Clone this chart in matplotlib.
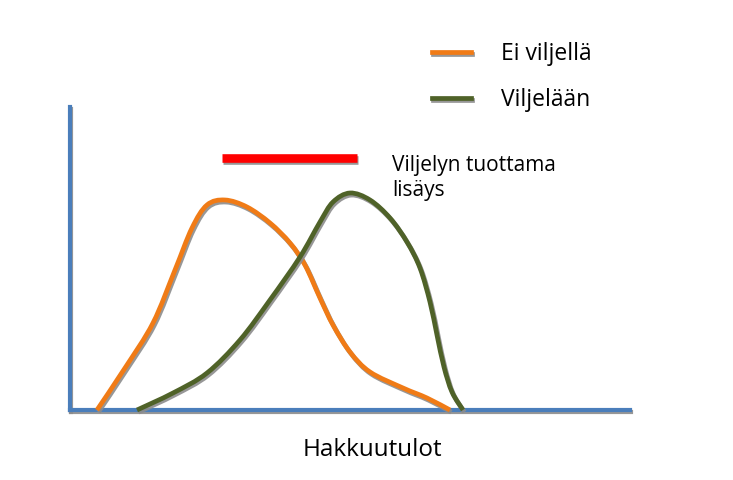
import matplotlib.pyplot as plt
import matplotlib.patheffects as pe
from matplotlib.lines import Line2D
from matplotlib.path import Path
from matplotlib.patches import PathPatch

# curve values (x along Hakkuutulot, y = relative frequency)
ei_x = [27, 55, 83, 105, 122, 137, 155, 177, 200, 220, 235, 250, 263, 280, 300, 333, 357, 380]
ei_y = [0, 42, 87, 140, 182, 205, 210, 203, 187, 167, 145, 112, 85, 58, 38, 22, 12, 0]
vil_x = [67, 103, 137, 170, 200, 230, 250, 263, 280, 300, 320, 337, 350, 360, 367, 374, 382, 393]
vil_y = [0, 17, 37, 70, 110, 153, 188, 208, 217, 210, 192, 168, 142, 108, 75, 43, 18, 0]
# "Viljelyn tuottama lisäys" marker bar
lisays_x = [152, 287]
lisays_y = 252

labels = ['Ei viljellä', 'Viljelään']
colors = ['#F07B16', '#4F6228']
axis_color = '#4A7EBB'

plt.rcParams['font.family'] = ['Open Sans', 'DejaVu Sans']


def smooth_path(xs, ys):
    # smooth curve through the points (Catmull-Rom drawn as cubic Bezier segments)
    pts = list(zip(xs, ys))
    verts = [pts[0]]
    codes = [Path.MOVETO]
    for i in range(len(pts) - 1):
        p0 = pts[i - 1] if i > 0 else pts[i]
        p1 = pts[i]
        p2 = pts[i + 1]
        p3 = pts[i + 2] if i + 2 < len(pts) else pts[i + 1]
        c1 = (p1[0] + (p2[0] - p0[0]) / 6, p1[1] + (p2[1] - p0[1]) / 6)
        c2 = (p2[0] - (p3[0] - p1[0]) / 6, p2[1] - (p3[1] - p1[1]) / 6)
        verts += [c1, c2, p2]
        codes += [Path.CURVE4] * 3
    return Path(verts, codes)


fig = plt.figure(figsize=(7.33, 4.8), dpi=100)
ax = fig.add_axes([70 / 733, 70 / 480, 560 / 733, 303 / 480])
ax.set_xlim(0, 560)
ax.set_ylim(0, 303)

shadow = [pe.SimpleLineShadow(offset=(1, -1.5), shadow_color='#8c8c8c', alpha=0.9), pe.Normal()]

for xs, ys, c in [(ei_x, ei_y, colors[0]), (vil_x, vil_y, colors[1])]:
    patch = PathPatch(smooth_path(xs, ys), facecolor='none', edgecolor=c, lw=3.4,
                      capstyle='butt', joinstyle='round', clip_on=False, zorder=3)
    patch.set_path_effects(shadow)
    ax.add_patch(patch)

ax.plot(lisays_x, [lisays_y, lisays_y], color='#FF0000', lw=6.2, solid_capstyle='butt',
        path_effects=shadow, zorder=3)

ax.text(322, 255, 'Viljelyn tuottama\nlisäys', fontsize=15, va='top', ha='left',
        linespacing=1.25)

# axes as blue lines with shadow
for side in ['top', 'right']:
    ax.spines[side].set_visible(False)
for side in ['left', 'bottom']:
    ax.spines[side].set_color(axis_color)
    ax.spines[side].set_linewidth(3)
    ax.spines[side].set_path_effects(shadow)
ax.set_xticks([])
ax.set_yticks([])
ax.text(302, -40, 'Hakkuutulot', fontsize=17.5, ha='center', va='center')

handles = [Line2D([0], [0], color=c, lw=3.4, path_effects=shadow) for c in colors]
fig.legend(handles, labels, loc='upper left', bbox_to_anchor=(432 / 733, 1 - 42 / 480),
           frameon=False, fontsize=16.5, handlelength=1.7, handletextpad=1.3,
           labelspacing=0.95, borderpad=0, borderaxespad=0)

fig.savefig('out.png', dpi=100)
